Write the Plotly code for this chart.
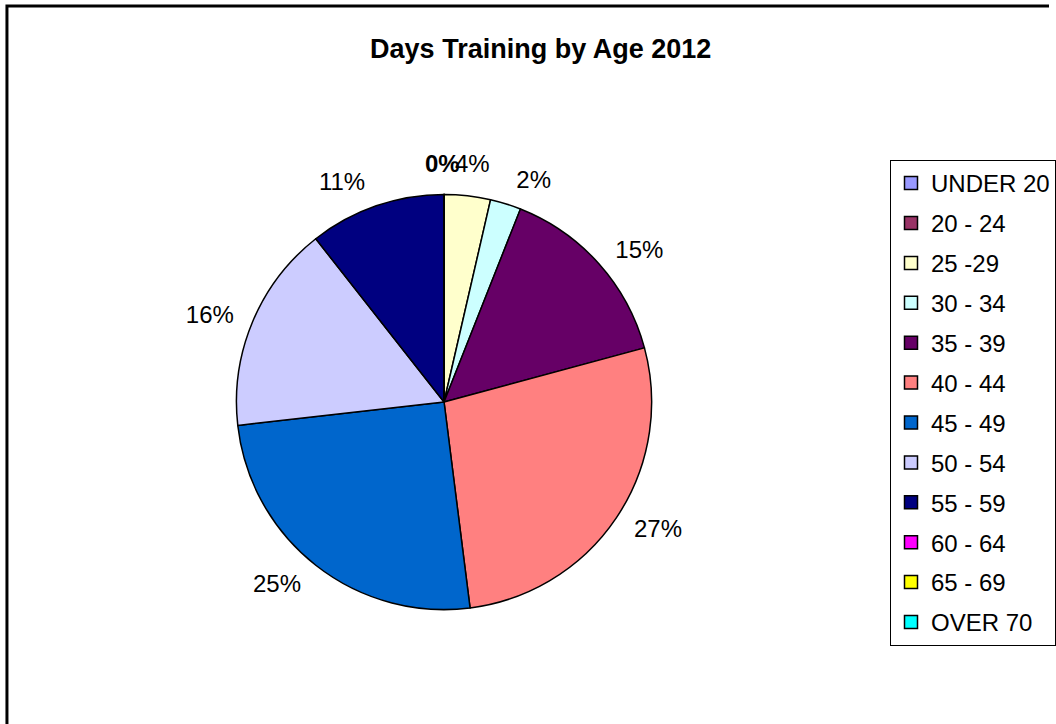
import plotly.graph_objects as go

# faixas etarias e participacao (%)
faixas = ["UNDER 20", "20 - 24", "25 -29", "30 - 34", "35 - 39", "40 - 44",
          "45 - 49", "50 - 54", "55 - 59", "60 - 64", "65 - 69", "OVER 70"]
valores = [0, 0, 3.6, 2.4, 14.8, 27.2, 25.2, 16.2, 10.6, 0, 0, 0]
cores = ["#9999FF", "#993366", "#FFFFCC", "#CCFFFF", "#660066", "#FF8080",
         "#0066CC", "#CCCCFF", "#000080", "#FF00FF", "#FFFF00", "#00FFFF"]

fonte = "Liberation Sans, Arial, sans-serif"

total = sum(valores)
pct = ["%d%%" % round(100 * v / total) for v in valores]

# no topo os rotulos se sobrepoem no Excel (0% e 4%); o plotly os afastaria com
# linhas de chamada, entao esses dois vao como anotacoes
no_topo = [0, 2]
posicoes = ["none" if (v == 0 or i in no_topo) else "outside"
            for i, v in enumerate(valores)]

fig = go.Figure()

# pizza visivel
fig.add_trace(go.Pie(
    labels=faixas,
    values=valores,
    sort=False,
    direction="clockwise",
    rotation=0,
    marker=dict(colors=cores, line=dict(color="black", width=1.5)),
    textinfo="none",
    showlegend=False,
    hoverinfo="label+percent",
    domain=dict(x=[0.2254, 0.6212], y=[0.1561, 0.7334]),
))

# pizza transparente um pouco maior, so para afastar os rotulos como no Excel
fig.add_trace(go.Pie(
    labels=faixas,
    values=valores,
    sort=False,
    direction="clockwise",
    rotation=0,
    marker=dict(colors=["rgba(0,0,0,0)"] * len(faixas), line=dict(width=0)),
    textposition=posicoes,
    texttemplate="%{percent:.0%}",
    textfont=dict(family=fonte, size=24, color="black"),
    showlegend=False,
    hoverinfo="skip",
    domain=dict(x=[0.2131, 0.6335], y=[0.1381, 0.7514]),
))

# legenda separada para poder espacar os itens como no Excel
for i, (nome, cor) in enumerate(zip(faixas, cores)):
    fig.add_trace(go.Scatter(
        x=[None], y=[None],
        mode="markers",
        name=nome,
        legendgroup="g%d" % i,
        marker=dict(symbol="square", size=13, color=cor,
                    line=dict(color="black", width=1.5)),
    ))

## layout
fig.update_layout(
    width=1056,
    height=724,
    margin=dict(l=0, r=0, t=0, b=0),
    paper_bgcolor="white",
    plot_bgcolor="white",
    font=dict(family=fonte, color="black"),
    title=dict(text="<b>Days Training by Age 2012</b>", x=0.512, xanchor="center",
               y=1 - 49 / 724, yanchor="middle",
               font=dict(family=fonte, size=27, color="black")),
    xaxis=dict(visible=False),
    yaxis=dict(visible=False),
    legend=dict(
        x=896 / 1056, xanchor="left",
        y=1 - 160 / 724, yanchor="top",
        bordercolor="black", borderwidth=1,
        bgcolor="white",
        font=dict(family=fonte, size=24, color="black"),
        tracegroupgap=5.7,
        itemclick=False,
    ),
    annotations=[
        dict(text="<b>" + pct[0] + "</b>", xref="paper", yref="paper",
             x=445 / 1056, y=1 - 164 / 724, xanchor="center", yanchor="middle",
             showarrow=False, font=dict(family=fonte, size=24, color="black")),
        dict(text=pct[2], xref="paper", yref="paper",
             x=476 / 1056, y=1 - 164 / 724, xanchor="center", yanchor="middle",
             showarrow=False, font=dict(family=fonte, size=24, color="black")),
    ],
    shapes=[dict(
        type="path", xref="paper", yref="paper",
        path="M %f 0 L %f %f L 1 %f" % (7 / 1056, 7 / 1056, 1 - 6 / 724, 1 - 6 / 724),
        line=dict(color="black", width=3),
    )],
)

fig.write_html("out.html", config={"displayModeBar": False},
               post_script="document.body.style.margin='0';")
